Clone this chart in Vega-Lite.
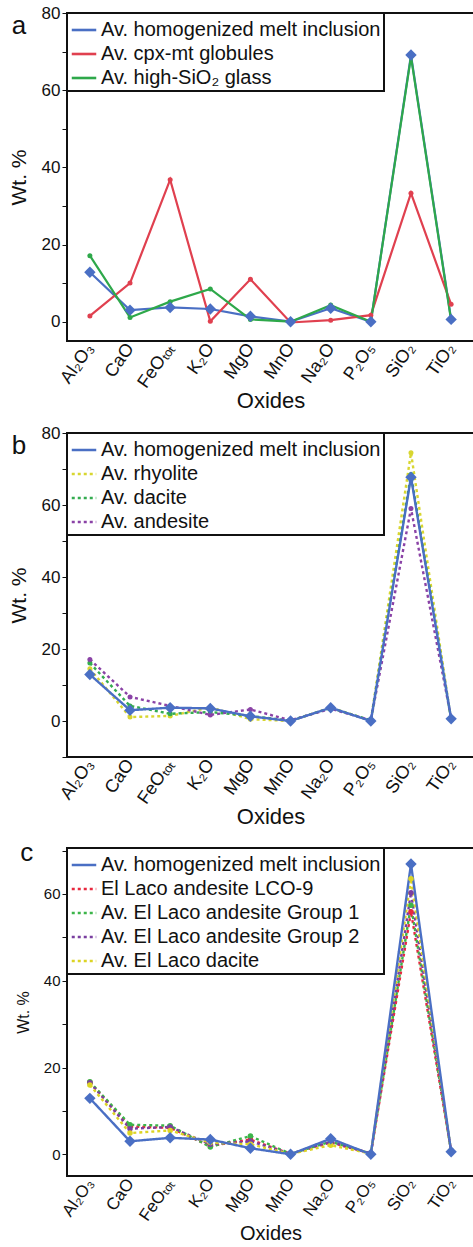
{
  "$schema": "https://vega.github.io/schema/vega-lite/v6.json",
  "padding": {"left": 7, "top": 3, "right": 2, "bottom": 0},
  "spacing": 10,
  "datasets": {
    "a": [
      {"ox": "Al₂O₃", "s": "Av. homogenized melt inclusion", "v": 12.8},
      {"ox": "CaO", "s": "Av. homogenized melt inclusion", "v": 3.0},
      {"ox": "FeOₜₒₜ", "s": "Av. homogenized melt inclusion", "v": 3.7},
      {"ox": "K₂O", "s": "Av. homogenized melt inclusion", "v": 3.3},
      {"ox": "MgO", "s": "Av. homogenized melt inclusion", "v": 1.4},
      {"ox": "MnO", "s": "Av. homogenized melt inclusion", "v": 0},
      {"ox": "Na₂O", "s": "Av. homogenized melt inclusion", "v": 3.5},
      {"ox": "P₂O₅", "s": "Av. homogenized melt inclusion", "v": 0},
      {"ox": "SiO₂", "s": "Av. homogenized melt inclusion", "v": 69.1},
      {"ox": "TiO₂", "s": "Av. homogenized melt inclusion", "v": 0.6},
      {"ox": "Al₂O₃", "s": "Av. cpx-mt globules", "v": 1.5},
      {"ox": "CaO", "s": "Av. cpx-mt globules", "v": 10},
      {"ox": "FeOₜₒₜ", "s": "Av. cpx-mt globules", "v": 36.8},
      {"ox": "K₂O", "s": "Av. cpx-mt globules", "v": 0.1},
      {"ox": "MgO", "s": "Av. cpx-mt globules", "v": 11},
      {"ox": "MnO", "s": "Av. cpx-mt globules", "v": -0.2},
      {"ox": "Na₂O", "s": "Av. cpx-mt globules", "v": 0.4},
      {"ox": "P₂O₅", "s": "Av. cpx-mt globules", "v": 1.7},
      {"ox": "SiO₂", "s": "Av. cpx-mt globules", "v": 33.3},
      {"ox": "TiO₂", "s": "Av. cpx-mt globules", "v": 4.5},
      {"ox": "Al₂O₃", "s": "Av. high-SiO₂ glass", "v": 17.1},
      {"ox": "CaO", "s": "Av. high-SiO₂ glass", "v": 1.1},
      {"ox": "FeOₜₒₜ", "s": "Av. high-SiO₂ glass", "v": 5.2},
      {"ox": "K₂O", "s": "Av. high-SiO₂ glass", "v": 8.5},
      {"ox": "MgO", "s": "Av. high-SiO₂ glass", "v": 0.6},
      {"ox": "MnO", "s": "Av. high-SiO₂ glass", "v": 0},
      {"ox": "Na₂O", "s": "Av. high-SiO₂ glass", "v": 4.3},
      {"ox": "P₂O₅", "s": "Av. high-SiO₂ glass", "v": 0},
      {"ox": "SiO₂", "s": "Av. high-SiO₂ glass", "v": 68.7},
      {"ox": "TiO₂", "s": "Av. high-SiO₂ glass", "v": 0.3}
    ],
    "b": [
      {"ox": "Al₂O₃", "s": "Av. rhyolite", "v": 14.5},
      {"ox": "CaO", "s": "Av. rhyolite", "v": 1.1},
      {"ox": "FeOₜₒₜ", "s": "Av. rhyolite", "v": 1.4},
      {"ox": "K₂O", "s": "Av. rhyolite", "v": 3.8},
      {"ox": "MgO", "s": "Av. rhyolite", "v": 0.5},
      {"ox": "MnO", "s": "Av. rhyolite", "v": 0},
      {"ox": "Na₂O", "s": "Av. rhyolite", "v": 3.7},
      {"ox": "P₂O₅", "s": "Av. rhyolite", "v": 0.1},
      {"ox": "SiO₂", "s": "Av. rhyolite", "v": 74.5},
      {"ox": "TiO₂", "s": "Av. rhyolite", "v": 0.3},
      {"ox": "Al₂O₃", "s": "Av. dacite", "v": 16.1},
      {"ox": "CaO", "s": "Av. dacite", "v": 4.2},
      {"ox": "FeOₜₒₜ", "s": "Av. dacite", "v": 2.0},
      {"ox": "K₂O", "s": "Av. dacite", "v": 2.5},
      {"ox": "MgO", "s": "Av. dacite", "v": 1.4},
      {"ox": "MnO", "s": "Av. dacite", "v": 0.1},
      {"ox": "Na₂O", "s": "Av. dacite", "v": 3.6},
      {"ox": "P₂O₅", "s": "Av. dacite", "v": 0.2},
      {"ox": "SiO₂", "s": "Av. dacite", "v": 68.5},
      {"ox": "TiO₂", "s": "Av. dacite", "v": 0.6},
      {"ox": "Al₂O₃", "s": "Av. andesite", "v": 17.1},
      {"ox": "CaO", "s": "Av. andesite", "v": 6.7},
      {"ox": "FeOₜₒₜ", "s": "Av. andesite", "v": 4.2},
      {"ox": "K₂O", "s": "Av. andesite", "v": 1.7},
      {"ox": "MgO", "s": "Av. andesite", "v": 3.2},
      {"ox": "MnO", "s": "Av. andesite", "v": 0.2},
      {"ox": "Na₂O", "s": "Av. andesite", "v": 3.4},
      {"ox": "P₂O₅", "s": "Av. andesite", "v": 0.2},
      {"ox": "SiO₂", "s": "Av. andesite", "v": 59},
      {"ox": "TiO₂", "s": "Av. andesite", "v": 0.8},
      {"ox": "Al₂O₃", "s": "Av. homogenized melt inclusion", "v": 12.9},
      {"ox": "CaO", "s": "Av. homogenized melt inclusion", "v": 3.0},
      {"ox": "FeOₜₒₜ", "s": "Av. homogenized melt inclusion", "v": 3.7},
      {"ox": "K₂O", "s": "Av. homogenized melt inclusion", "v": 3.5},
      {"ox": "MgO", "s": "Av. homogenized melt inclusion", "v": 1.3},
      {"ox": "MnO", "s": "Av. homogenized melt inclusion", "v": 0},
      {"ox": "Na₂O", "s": "Av. homogenized melt inclusion", "v": 3.7},
      {"ox": "P₂O₅", "s": "Av. homogenized melt inclusion", "v": 0},
      {"ox": "SiO₂", "s": "Av. homogenized melt inclusion", "v": 67.7},
      {"ox": "TiO₂", "s": "Av. homogenized melt inclusion", "v": 0.6}
    ],
    "c": [
      {"ox": "Al₂O₃", "s": "El Laco andesite LCO-9", "v": 16.6},
      {"ox": "CaO", "s": "El Laco andesite LCO-9", "v": 6.4},
      {"ox": "FeOₜₒₜ", "s": "El Laco andesite LCO-9", "v": 6.1},
      {"ox": "K₂O", "s": "El Laco andesite LCO-9", "v": 1.9},
      {"ox": "MgO", "s": "El Laco andesite LCO-9", "v": 3.4},
      {"ox": "MnO", "s": "El Laco andesite LCO-9", "v": 0.1},
      {"ox": "Na₂O", "s": "El Laco andesite LCO-9", "v": 2.7},
      {"ox": "P₂O₅", "s": "El Laco andesite LCO-9", "v": 0.2},
      {"ox": "SiO₂", "s": "El Laco andesite LCO-9", "v": 55.9},
      {"ox": "TiO₂", "s": "El Laco andesite LCO-9", "v": 0.8},
      {"ox": "Al₂O₃", "s": "Av. El Laco andesite Group 1", "v": 16.7},
      {"ox": "CaO", "s": "Av. El Laco andesite Group 1", "v": 6.8},
      {"ox": "FeOₜₒₜ", "s": "Av. El Laco andesite Group 1", "v": 6.6},
      {"ox": "K₂O", "s": "Av. El Laco andesite Group 1", "v": 1.7},
      {"ox": "MgO", "s": "Av. El Laco andesite Group 1", "v": 4.2},
      {"ox": "MnO", "s": "Av. El Laco andesite Group 1", "v": 0.1},
      {"ox": "Na₂O", "s": "Av. El Laco andesite Group 1", "v": 2.9},
      {"ox": "P₂O₅", "s": "Av. El Laco andesite Group 1", "v": 0.2},
      {"ox": "SiO₂", "s": "Av. El Laco andesite Group 1", "v": 57.4},
      {"ox": "TiO₂", "s": "Av. El Laco andesite Group 1", "v": 0.8},
      {"ox": "Al₂O₃", "s": "Av. El Laco andesite Group 2", "v": 16.5},
      {"ox": "CaO", "s": "Av. El Laco andesite Group 2", "v": 5.9},
      {"ox": "FeOₜₒₜ", "s": "Av. El Laco andesite Group 2", "v": 6.3},
      {"ox": "K₂O", "s": "Av. El Laco andesite Group 2", "v": 2.3},
      {"ox": "MgO", "s": "Av. El Laco andesite Group 2", "v": 3.0},
      {"ox": "MnO", "s": "Av. El Laco andesite Group 2", "v": 0.1},
      {"ox": "Na₂O", "s": "Av. El Laco andesite Group 2", "v": 2.9},
      {"ox": "P₂O₅", "s": "Av. El Laco andesite Group 2", "v": 0.2},
      {"ox": "SiO₂", "s": "Av. El Laco andesite Group 2", "v": 60.3},
      {"ox": "TiO₂", "s": "Av. El Laco andesite Group 2", "v": 0.7},
      {"ox": "Al₂O₃", "s": "Av. El Laco dacite", "v": 16.0},
      {"ox": "CaO", "s": "Av. El Laco dacite", "v": 4.9},
      {"ox": "FeOₜₒₜ", "s": "Av. El Laco dacite", "v": 5.5},
      {"ox": "K₂O", "s": "Av. El Laco dacite", "v": 2.7},
      {"ox": "MgO", "s": "Av. El Laco dacite", "v": 2.3},
      {"ox": "MnO", "s": "Av. El Laco dacite", "v": 0.1},
      {"ox": "Na₂O", "s": "Av. El Laco dacite", "v": 2.1},
      {"ox": "P₂O₅", "s": "Av. El Laco dacite", "v": 0.15},
      {"ox": "SiO₂", "s": "Av. El Laco dacite", "v": 63.5},
      {"ox": "TiO₂", "s": "Av. El Laco dacite", "v": 0.6},
      {"ox": "Al₂O₃", "s": "Av. homogenized melt inclusion", "v": 12.9},
      {"ox": "CaO", "s": "Av. homogenized melt inclusion", "v": 3.0},
      {"ox": "FeOₜₒₜ", "s": "Av. homogenized melt inclusion", "v": 3.8},
      {"ox": "K₂O", "s": "Av. homogenized melt inclusion", "v": 3.4},
      {"ox": "MgO", "s": "Av. homogenized melt inclusion", "v": 1.4},
      {"ox": "MnO", "s": "Av. homogenized melt inclusion", "v": 0},
      {"ox": "Na₂O", "s": "Av. homogenized melt inclusion", "v": 3.6},
      {"ox": "P₂O₅", "s": "Av. homogenized melt inclusion", "v": 0},
      {"ox": "SiO₂", "s": "Av. homogenized melt inclusion", "v": 66.9},
      {"ox": "TiO₂", "s": "Av. homogenized melt inclusion", "v": 0.6}
    ]
  },
  "vconcat": [
    {
      "width": 407,
      "height": 328,
      "data": {"name": "a"},
      "title": {"text": "a", "orient": "left", "anchor": "end", "frame": "group", "angle": 0, "align": "left", "baseline": "top", "offset": -18, "fontSize": 26, "fontWeight": "normal"},
      "encoding": {
        "x": {"field": "ox", "type": "nominal", "sort": ["Al₂O₃","CaO","FeOₜₒₜ","K₂O","MgO","MnO","Na₂O","P₂O₅","SiO₂","TiO₂"], "scale": {"type": "point", "padding": 0.57}, "axis": {"title": "Oxides"}},
        "y": {"field": "v", "type": "quantitative", "scale": {"domain": [-5, 80], "nice": false, "zero": false}, "axis": {"title": "Wt. %", "values": [0,10,20,30,40,50,60,70,80], "labelExpr": "datum.value % 20 === 0 ? datum.label : ''"}}
      },
      "layer": [
        {
          "mark": {"type": "line", "strokeWidth": 2.2},
          "encoding": {
            "color": {"field": "s", "type": "nominal", "title": null, "scale": {"domain": ["Av. homogenized melt inclusion", "Av. cpx-mt globules", "Av. high-SiO₂ glass"], "range": ["#4a6fc4", "#e0404f", "#2ea84a"]}, "legend": {"orient": "top-left"}}
          }
        },
        {
          "transform": [{"filter": "datum.s !== 'Av. homogenized melt inclusion'"}],
          "mark": {"type": "point", "filled": true, "opacity": 1, "shape": "circle", "size": 25},
          "encoding": {
            "fill": {"field": "s", "type": "nominal", "legend": null, "scale": {"domain": ["Av. cpx-mt globules", "Av. high-SiO₂ glass"], "range": ["#e0404f", "#2ea84a"]}}
          }
        },
        {
          "transform": [{"filter": "datum.s === 'Av. homogenized melt inclusion'"}],
          "mark": {"type": "point", "filled": true, "opacity": 1, "shape": "diamond", "size": 130, "color": "#4a6fc4"}
        }
      ]
    },
    {
      "width": 407,
      "height": 324,
      "data": {"name": "b"},
      "title": {"text": "b", "orient": "left", "anchor": "end", "frame": "group", "angle": 0, "align": "left", "baseline": "top", "offset": -18, "fontSize": 26, "fontWeight": "normal"},
      "encoding": {
        "x": {"field": "ox", "type": "nominal", "sort": ["Al₂O₃","CaO","FeOₜₒₜ","K₂O","MgO","MnO","Na₂O","P₂O₅","SiO₂","TiO₂"], "scale": {"type": "point", "padding": 0.57}, "axis": {"title": "Oxides"}},
        "y": {"field": "v", "type": "quantitative", "scale": {"domain": [-10, 80], "nice": false, "zero": false}, "axis": {"title": "Wt. %", "values": [-10,0,10,20,30,40,50,60,70,80], "labelExpr": "datum.value % 20 === 0 ? datum.label : ''"}}
      },
      "layer": [
        {
          "mark": {"type": "line", "strokeWidth": 2.4},
          "encoding": {
            "color": {"field": "s", "type": "nominal", "title": null, "scale": {"domain": ["Av. homogenized melt inclusion", "Av. rhyolite", "Av. dacite", "Av. andesite"], "range": ["#4a6fc4", "#d8d630", "#34ac50", "#8a42a6"]}, "legend": {"orient": "top-left"}},
            "strokeDash": {"field": "s", "type": "nominal", "title": null, "scale": {"domain": ["Av. homogenized melt inclusion", "Av. rhyolite", "Av. dacite", "Av. andesite"], "range": [[1,0],[3,3],[3,3],[3,3]]}, "legend": {"orient": "top-left"}}
          }
        },
        {
          "transform": [{"filter": "datum.s !== 'Av. homogenized melt inclusion'"}],
          "mark": {"type": "point", "filled": true, "opacity": 1, "shape": "circle", "size": 25},
          "encoding": {
            "fill": {"field": "s", "type": "nominal", "legend": null, "scale": {"domain": ["Av. rhyolite", "Av. dacite", "Av. andesite"], "range": ["#d8d630", "#34ac50", "#8a42a6"]}}
          }
        },
        {
          "transform": [{"filter": "datum.s === 'Av. homogenized melt inclusion'"}],
          "mark": {"type": "point", "filled": true, "opacity": 1, "shape": "diamond", "size": 130, "color": "#4a6fc4"}
        }
      ]
    },
    {
      "width": 407,
      "height": 328,
      "data": {"name": "c"},
      "title": {"text": "c", "orient": "left", "anchor": "end", "frame": "group", "angle": 0, "align": "left", "baseline": "top", "offset": -18, "dy": -8, "fontSize": 26, "fontWeight": "normal"},
      "encoding": {
        "x": {"field": "ox", "type": "nominal", "sort": ["Al₂O₃","CaO","FeOₜₒₜ","K₂O","MgO","MnO","Na₂O","P₂O₅","SiO₂","TiO₂"], "scale": {"type": "point", "padding": 0.57}, "axis": {"title": "Oxides", "titleFontSize": 20, "labelFontSize": 17}},
        "y": {"field": "v", "type": "quantitative", "scale": {"domain": [-5, 70.6], "nice": false, "zero": false}, "axis": {"title": "Wt. %", "titleFontSize": 16, "labelFontSize": 15, "values": [0,10,20,30,40,50,60,70], "labelExpr": "datum.value % 20 === 0 ? datum.label : ''"}}
      },
      "layer": [
        {
          "mark": {"type": "line", "strokeWidth": 2.4},
          "encoding": {
            "color": {"field": "s", "type": "nominal", "title": null, "scale": {"domain": ["Av. homogenized melt inclusion", "El Laco andesite LCO-9", "Av. El Laco andesite Group 1", "Av. El Laco andesite Group 2", "Av. El Laco dacite"], "range": ["#4a6fc4", "#e8283e", "#3cb54a", "#7a3fa0", "#dcd424"]}, "legend": {"orient": "top-left"}},
            "strokeDash": {"field": "s", "type": "nominal", "title": null, "scale": {"domain": ["Av. homogenized melt inclusion", "El Laco andesite LCO-9", "Av. El Laco andesite Group 1", "Av. El Laco andesite Group 2", "Av. El Laco dacite"], "range": [[1,0],[3,3],[3,3],[3,3],[3,3]]}, "legend": {"orient": "top-left"}}
          }
        },
        {
          "transform": [{"filter": "datum.s !== 'Av. homogenized melt inclusion'"}],
          "mark": {"type": "point", "filled": true, "opacity": 1, "shape": "circle", "size": 30},
          "encoding": {
            "fill": {"field": "s", "type": "nominal", "legend": null, "scale": {"domain": ["El Laco andesite LCO-9", "Av. El Laco andesite Group 1", "Av. El Laco andesite Group 2", "Av. El Laco dacite"], "range": ["#e8283e", "#3cb54a", "#7a3fa0", "#dcd424"]}}
          }
        },
        {
          "transform": [{"filter": "datum.s === 'Av. homogenized melt inclusion'"}],
          "mark": {"type": "point", "filled": true, "opacity": 1, "shape": "diamond", "size": 130, "color": "#4a6fc4"}
        }
      ]
    }
  ],
  "resolve": {"scale": {"color": "independent", "strokeDash": "independent", "fill": "independent", "x": "independent", "y": "independent"}, "legend": {"color": "independent", "strokeDash": "independent"}},
  "config": {
    "font": "Liberation Sans",
    "view": {"stroke": "#111111", "strokeWidth": 2},
    "title": {"color": "#111111", "font": "Liberation Sans"},
    "axis": {"domain": false, "grid": false, "labelColor": "#111111", "titleColor": "#111111", "tickColor": "#111111", "labelFont": "Liberation Sans", "titleFont": "Liberation Sans", "titleFontWeight": "normal"},
    "axisY": {"tickSize": 5, "labelFontSize": 17, "titleFontSize": 21, "labelPadding": 2, "titlePadding": 12},
    "axisX": {"ticks": false, "labelAngle": -55, "labelFontSize": 18, "titleFontSize": 22, "labelPadding": 4, "titlePadding": 0},
    "legend": {"offset": 0, "padding": 3, "strokeColor": "#111111", "strokeWidth": 2, "fillColor": "white", "symbolType": "stroke", "symbolSize": 600, "symbolStrokeWidth": 2.6, "labelFontSize": 20, "labelFont": "Liberation Sans", "labelColor": "#111111", "labelOffset": 3, "labelLimit": 400, "rowPadding": 0, "cornerRadius": 0}
  }
}
